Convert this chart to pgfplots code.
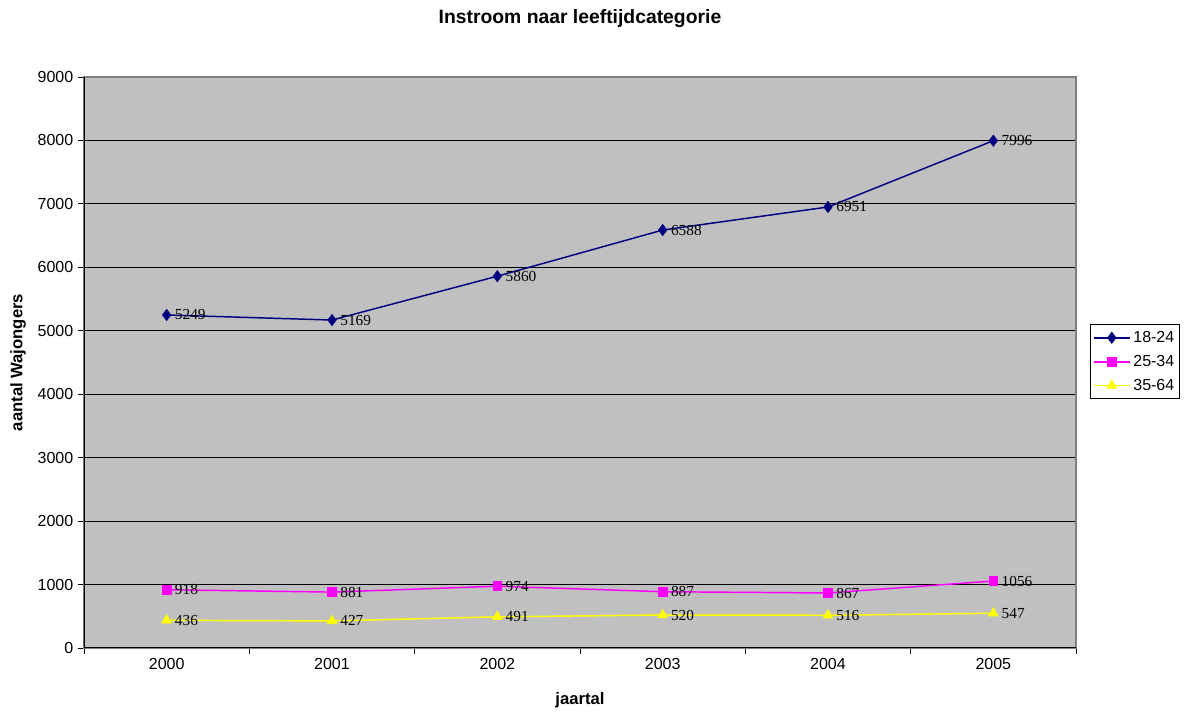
\documentclass[border=0pt]{standalone}
\usepackage{fontspec}
\setmainfont{Liberation Sans}
\newfontfamily\seriffont{Liberation Serif}
\usepackage{pgfplots}
\pgfplotsset{compat=1.18}
\definecolor{plotgray}{RGB}{192,192,192}
\definecolor{navyc}{RGB}{0,0,128}
\definecolor{magc}{RGB}{255,0,255}
\definecolor{yelc}{RGB}{255,255,0}
\begin{document}
\begin{tikzpicture}[x=0.75pt,y=0.75pt]
\begin{axis}[
  at={(0,0)}, anchor=south west,
  scale only axis,
  width=744pt, height=428.25pt,
  xmin=-0.5, xmax=5.5,
  ymin=0, ymax=9000,
  ytick={0,1000,...,9000},
  xtick={-0.5,0.5,...,5.5},
  xticklabels={2000,2001,2002,2003,2004,2005},
  x tick label as interval,
  xtick pos=bottom, ytick pos=left,
  tick align=outside,
  major tick length=4.5pt,
  tick style={black, line width=0.6pt},
  ymajorgrids,
  grid style={black, line width=0.6pt},
  axis background/.style={fill=plotgray},
  axis line style={draw=gray, line width=0.8pt},
  scaled y ticks=false,
  /pgf/number format/assume math mode=true,
  /pgf/number format/set thousands separator={},
  tick label style={font=\fontsize{12}{14}\selectfont},
  title={\textbf{Instroom naar leeftijdcategorie}},
  every axis title/.style={at={(axis description cs:0.5,1.103)}, anchor=center, font=\fontsize{14.5}{17}\selectfont},
  xlabel={\textbf{jaartal}},
  ylabel={\textbf{aantal Wajongers}},
  every axis x label/.style={at={(axis description cs:0.5,-0.091)}, anchor=center, font=\fontsize{12.5}{15}\selectfont},
  every axis y label/.style={at={(axis description cs:-0.0665,0.5)}, anchor=center, rotate=90, font=\fontsize{12.5}{15}\selectfont},
  legend style={at={(axis description cs:1.014,0.567)}, anchor=north west, draw=black, fill=white,
    font=\fontsize{12}{14}\selectfont, inner xsep=2pt, inner ysep=3pt, row sep=4pt},
  legend cell align=left,
  legend image code/.code={\draw[#1,line width=1.4pt,mark=none] (0pt,0pt) -- (27pt,0pt);
    \draw[#1,line width=0.5pt] plot coordinates {(13.5pt,0pt)};},
  nodes near coords,
  every node near coord/.append style={anchor=west, xshift=5pt, inner sep=1pt, font=\seriffont\fontsize{11.5}{13}\selectfont, text=black},
  nodes near coords style={/pgf/number format/.cd, fixed, set thousands separator={}, precision=0},
]
\addplot[color=navyc, line width=1.1pt, mark=diamond*, mark size=4.2pt, mark options={fill=navyc, draw=navyc, line width=0.5pt}]
  coordinates {(0,5249) (1,5169) (2,5860) (3,6588) (4,6951) (5,7996)};
\addlegendentry{18-24}
\addplot[color=magc, line width=1.1pt, mark=square*, mark size=3.3pt, mark options={fill=magc, draw=magc, line width=0.5pt}]
  coordinates {(0,918) (1,881) (2,974) (3,887) (4,867) (5,1056)};
\addlegendentry{25-34}
\addplot[color=yelc, line width=1.1pt, mark=triangle*, mark size=4.2pt, mark options={fill=yelc, draw=yelc, line width=0.5pt}]
  coordinates {(0,436) (1,427) (2,491) (3,520) (4,516) (5,547)};
\addlegendentry{35-64}
\draw[black, line width=0.8pt] (rel axis cs:0,1) -- (rel axis cs:0,0) -- (rel axis cs:1,0);
\end{axis}
\pgfresetboundingbox
\useasboundingbox (-84,-65) rectangle (1104,648);
\end{tikzpicture}
\end{document}
